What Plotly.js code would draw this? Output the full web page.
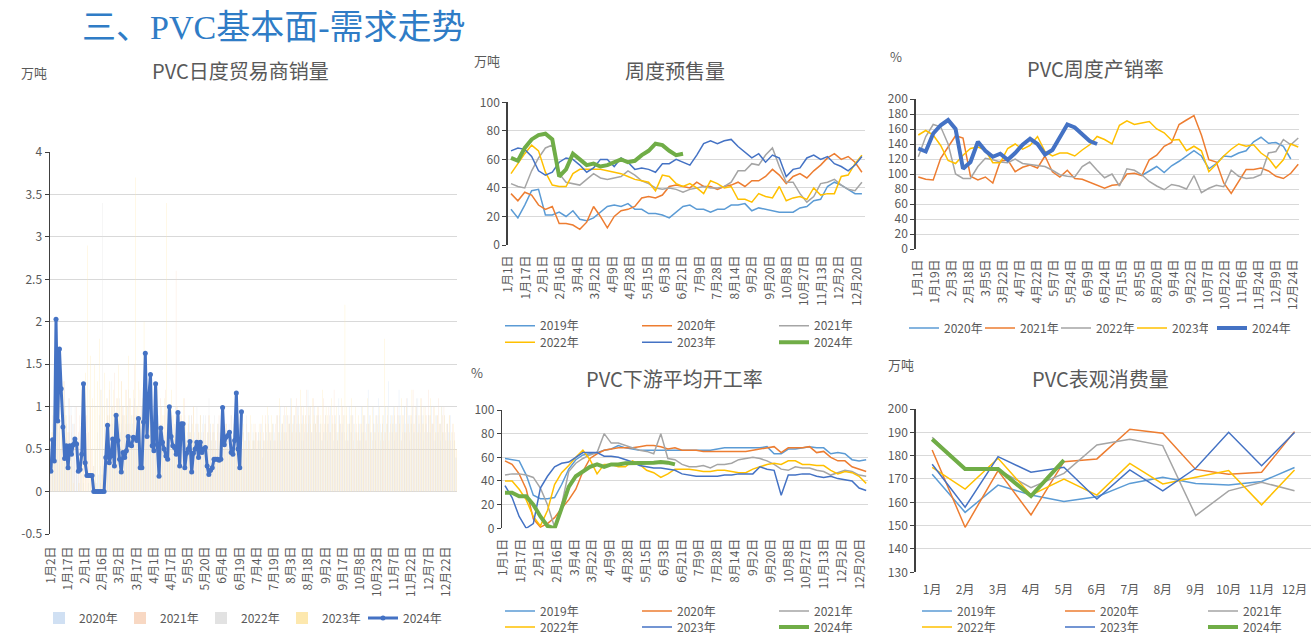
<!DOCTYPE html>
<html><head><meta charset="utf-8">
<script src="https://cdn.plot.ly/plotly-3.0.1.min.js"></script>
<style>
body{margin:0;background:#fff;}
#wrap{position:relative;width:1312px;height:635px;overflow:hidden;}
#chart{position:absolute;left:0;top:0;width:1312px;height:635px;}
#heading{position:absolute;left:82px;top:8px;font-size:34px;line-height:40px;color:#2F7CC6;font-family:"Liberation Serif","Noto Sans CJK SC",serif;white-space:nowrap;z-index:5;}
</style></head><body>
<div id="wrap"><div id="chart"></div><div id="heading">三、PVC基本面-需求走势</div></div>
<script>
// ---------------- DATA ----------------
// Panel 1: PVC日度贸易商销量 (万吨), trading-day categories
const leftLabels = ['1月2日','1月17日','2月1日','2月16日','3月2日','3月17日','4月1日','4月17日','5月5日','5月20日','6月4日','6月19日','7月4日','7月19日','8月3日','8月18日','9月2日','9月17日','10月8日','10月23日','11月7日','11月22日','12月7日','12月22日'];
const leftYTicks = ['-0.5','0','0.5','1','1.5','2','2.5','3','3.5','4'];
const trade2020 = [
0.5,0.8,0.6,0.9,1.1,0.7,0.5,0.8,1.2,0.9,0.6,0.7,1.0,0.8,0.4,0.3,0.2,0.1,0.0,0.0,
0.0,0.0,0.0,0.0,0.1,0.1,0.2,0.1,0.2,0.3,0.2,0.3,0.4,0.3,0.5,0.4,0.6,0.5,0.7,0.6,
0.8,0.7,0.9,0.6,0.8,1.0,0.7,0.9,0.8,1.1,0.9,0.7,0.8,1.0,0.9,0.6,0.8,0.7,0.9,1.2,
0.8,0.7,1.0,0.9,0.6,0.8,0.7,0.5,0.8,0.9,0.7,0.6,0.8,1.0,0.7,0.9,0.6,0.8,0.7,0.5,
0.7,0.9,0.8,0.6,0.7,0.5,0.8,0.6,0.7,0.9,0.6,0.5,0.7,0.8,0.6,0.7,0.5,0.6,0.8,0.7,
0.6,0.5,0.7,0.6,0.8,0.5,0.6,0.7,0.5,0.6,0.8,0.7,0.5,0.6,0.4,0.7,0.6,0.5,0.7,0.6,
0.5,0.7,0.6,0.8,0.6,0.5,0.7,0.9,0.6,0.7,0.8,0.6,0.9,0.7,1.0,0.8,0.7,0.9,0.6,0.8,
1.1,0.8,0.9,0.7,1.0,0.8,0.6,0.9,0.7,0.8,1.2,0.9,0.7,0.8,1.0,0.7,0.9,0.8,0.6,0.7,
0.9,0.7,0.8,1.0,0.8,0.6,0.9,0.7,1.1,0.8,0.7,0.9,0.6,0.8,1.0,0.7,0.9,0.8,0.7,0.6,
0.8,1.0,0.7,0.9,0.8,1.2,0.9,0.7,1.0,0.8,0.9,1.1,0.8,0.7,0.9,1.0,0.8,1.3,0.9,0.8,
1.0,0.8,0.9,1.2,0.9,0.7,1.0,0.8,1.1,0.9,0.8,1.0,0.7,0.9,1.1,0.8,1.0,0.9,0.7,0.8,
0.9,0.7,1.0,0.8,0.6,0.9,0.7,0.8,1.0,0.7,0.6,0.8,0.7,0.9,0.6,0.5,0.4];
const trade2021 = [
0.4,0.7,0.9,0.6,1.0,0.8,0.5,0.9,1.3,0.8,0.7,1.1,0.9,0.6,0.8,1.0,0.7,0.9,1.2,0.8,
0.6,0.9,0.7,1.0,0.5,0.3,0.1,0.0,0.0,0.1,0.2,0.4,0.6,0.9,1.2,0.8,1.0,1.4,0.9,1.1,
0.8,1.3,1.0,0.9,1.2,0.8,1.1,0.7,1.0,1.5,0.9,0.8,1.2,1.0,0.7,0.9,1.1,0.8,1.0,0.7,
0.9,0.6,1.0,0.8,1.1,0.7,0.9,1.2,0.8,1.0,0.7,0.9,0.8,2.6,1.0,0.7,0.9,0.8,1.1,0.6,
0.8,0.7,0.9,1.0,0.6,0.8,0.7,0.9,0.5,0.7,0.8,0.6,0.9,0.7,0.5,0.8,0.6,0.7,0.9,0.6,
0.7,0.5,0.8,0.6,0.7,0.9,0.6,0.5,0.8,0.7,0.6,0.9,0.7,0.5,0.8,0.6,0.7,0.5,0.6,0.8,
0.7,0.6,0.8,0.5,0.7,0.9,0.6,0.8,0.7,0.5,0.6,0.8,0.9,0.7,0.6,0.8,1.0,0.7,0.9,0.8,
1.0,0.7,0.9,1.1,0.8,0.7,1.0,0.9,0.8,1.2,0.9,1.0,0.7,1.1,0.8,0.9,1.0,0.7,0.8,1.1,
0.9,0.8,1.0,0.7,0.9,1.2,0.8,0.6,0.9,0.8,1.0,0.7,0.9,0.6,0.8,0.7,0.9,0.5,0.8,0.7,
0.6,0.8,0.7,0.9,0.6,0.8,0.7,0.5,0.8,0.6,0.9,0.7,0.5,0.8,0.6,0.7,0.9,0.6,0.8,0.7,
0.9,0.7,1.0,0.8,0.6,0.9,0.7,1.1,0.8,0.7,0.9,1.2,0.8,1.0,0.7,0.9,1.1,0.8,1.0,0.9,
1.2,0.9,0.8,1.0,0.7,0.9,1.1,0.8,0.9,1.0,0.7,0.8,0.9,0.6,0.8,0.7,0.5];
const trade2022 = [
0.6,0.9,0.7,1.0,0.8,1.2,0.9,0.7,1.0,0.8,1.1,0.9,0.7,0.8,1.0,0.6,0.5,0.3,0.2,0.1,
0.0,0.0,0.1,0.0,0.2,0.3,0.5,0.7,0.9,1.2,3.4,1.0,0.8,1.1,0.9,1.3,0.8,1.0,0.7,0.9,
1.1,0.8,1.0,0.7,0.9,1.2,0.8,0.6,0.9,0.7,1.0,0.8,0.6,0.9,0.7,0.5,0.8,0.6,0.7,0.5,
0.6,0.4,0.7,0.5,0.6,0.8,0.5,0.7,0.4,0.6,0.5,0.7,0.6,0.4,0.8,0.6,0.5,0.7,0.9,0.6,
0.8,0.7,0.9,0.6,0.8,1.0,0.7,0.9,0.8,0.6,0.9,0.7,1.1,0.8,0.7,0.9,0.6,0.8,0.7,0.9,
0.7,0.6,0.8,0.5,0.7,0.9,0.6,0.8,0.7,0.5,0.6,0.8,0.7,0.6,0.9,0.7,0.5,0.8,0.6,0.7,
0.5,0.7,0.6,0.4,0.6,0.8,0.5,0.7,0.6,0.8,0.7,0.5,0.6,0.9,0.7,0.8,0.6,0.7,0.9,0.8,
0.7,0.9,0.6,0.8,1.0,0.7,0.8,0.6,0.9,0.7,0.8,1.0,0.7,0.6,0.8,0.9,0.7,0.8,0.6,0.7,
0.8,0.6,0.9,0.7,0.5,0.8,0.7,0.6,0.9,0.7,0.8,0.5,0.7,0.6,0.8,0.9,0.6,0.7,0.5,0.8,
0.6,0.7,0.9,0.6,0.8,0.5,0.7,0.6,0.8,0.7,0.5,0.9,0.6,0.8,0.7,0.6,0.8,0.5,0.7,0.9,
0.6,0.8,0.7,0.9,0.6,0.8,1.0,0.7,0.9,0.6,0.8,0.7,0.9,1.1,0.8,0.7,0.9,0.6,0.8,0.7,
0.9,0.7,0.8,0.6,0.9,0.7,0.8,0.6,0.7,0.9,0.6,0.8,0.7,0.5,0.7,0.6,0.4];
const trade2023 = [
0.7,1.0,0.8,1.2,0.9,1.1,0.8,1.3,1.0,0.9,0.7,0.5,0.3,0.1,0.0,0.0,0.1,0.3,0.6,0.9,
1.4,2.9,1.2,1.6,1.1,1.5,1.0,1.3,1.8,1.2,1.0,1.4,1.1,0.9,1.3,1.0,1.2,0.9,1.1,1.5,
1.0,1.3,0.9,1.2,1.0,1.6,1.1,0.9,1.2,3.7,1.0,1.3,0.9,1.1,2.0,1.2,0.9,1.0,1.3,0.8,
1.1,0.9,1.2,0.8,1.0,0.9,1.1,3.4,1.0,0.8,1.2,0.9,0.7,1.0,0.8,0.9,0.7,1.1,0.8,0.6,
0.9,0.7,0.8,1.0,0.6,0.8,0.7,0.9,0.6,0.8,0.5,0.7,0.9,0.6,0.8,0.7,0.5,0.8,0.6,0.7,
0.9,0.6,0.8,0.5,0.7,0.6,0.8,0.7,0.5,0.9,0.6,0.7,0.8,0.6,0.5,0.7,0.9,0.6,0.8,0.7,
0.6,0.8,0.7,0.9,0.6,0.8,1.0,0.7,0.9,0.8,0.6,0.9,0.7,1.1,0.8,0.9,0.7,1.0,0.8,0.9,
1.1,0.8,1.0,0.7,0.9,1.2,0.8,1.0,0.9,0.7,1.0,0.8,1.1,0.9,0.8,1.0,0.7,0.9,1.2,0.8,
1.0,0.9,0.7,1.1,0.8,0.9,1.0,0.7,0.8,1.1,0.9,2.2,1.0,0.8,0.9,1.1,0.8,1.0,0.7,0.9,
0.8,1.0,0.9,0.7,1.1,0.8,0.9,1.0,0.7,0.9,0.8,1.0,0.7,0.9,1.8,0.8,1.0,0.7,0.9,0.8,
1.0,0.7,0.9,0.8,1.1,0.9,0.7,1.0,0.8,0.9,1.2,0.8,1.0,0.7,0.9,1.1,0.8,1.0,0.9,0.7,
0.9,1.1,0.8,1.0,0.7,0.9,0.8,1.0,0.7,0.9,0.8,0.6,0.9,0.7,0.8,0.6,0.5];
const trade2024 = [0.24,0.61,0.36,2.03,0.83,1.68,1.21,0.76,0.39,0.54,
0.28,0.54,0.44,0.55,0.62,0.56,0.24,0.26,0.44,1.27,
0.34,0.19,0.19,0.19,0.19,0,0,0,0,0,
0,0,0.4,0.78,0.34,0.42,0.62,0.3,0.9,0.6,
0.38,0.23,0.46,0.4,0.48,0.65,0.55,0.54,0.64,0.63,
0.6,0.86,0.28,0.28,0.82,1.63,0.65,1.1,1.38,0.54,
0.48,1.27,0.55,0.18,0.75,0.58,0.5,0.42,0.38,1.0,
0.65,0.54,0.52,0.44,0.93,0.3,0.8,0.8,0.28,0.45,
0.5,0.59,0.23,0.45,0.5,0.58,0.4,0.58,0.46,0.5,
0.52,0.3,0.2,0.25,0.28,0.38,0.38,0.38,0.37,0.38,
0.99,0.55,0.64,0.66,0.7,0.46,0.44,0.6,1.16,0.5,
0.28,0.94];

// Panel 2: 周度预售量 (万吨), weekly
const weekLabels = ['1月1日','1月17日','2月1日','2月16日','3月4日','3月22日','4月9日','4月28日','5月15日','6月3日','6月21日','7月9日','7月28日','8月14日','9月2日','9月20日','10月8日','10月27日','11月13日','12月2日','12月20日'];
const presale2019 = [25,19,28,38,39,21,21,23,20,24,18,17,19,23,27,28,27,29,25,25,22,22,21,19,23,27,28,25,25,23,25,25,28,28,29,24,26,25,24,23,23,23,26,27,31,32,41,44,42,39,36,36];
const presale2020 = [36,31,37,35,28,25,27,15,15,14,11,16,27,20,12,20,24,25,27,33,34,33,35,41,42,41,40,44,41,41,39,41,42,44,41,45,45,48,53,49,43,48,50,47,52,56,61,64,60,62,58,51];
const presale2021 = [43,41,40,52,61,68,70,50,44,43,42,46,50,47,46,47,48,52,49,45,43,40,39,40,39,37,39,40,41,40,40,41,44,52,52,57,56,63,68,55,44,44,36,30,34,43,44,46,42,39,38,44];
const presale2022 = [50,57,64,70,66,51,42,41,41,50,53,53,53,53,52,51,50,48,46,45,44,38,49,48,43,41,43,40,36,45,43,40,41,32,32,30,36,34,33,41,31,33,34,32,40,35,36,36,48,49,57,63];
const presale2023 = [66,68,67,62,52,49,51,58,61,60,56,51,54,60,60,55,61,58,53,54,53,51,57,57,60,58,56,63,71,73,71,73,74,69,65,61,64,58,63,61,48,53,54,61,63,60,62,57,55,52,56,62];
const presale2024 = [61,59,68,74,77,78,74,48,53,64,60,56,57,55,56,58,60,58,59,63,66,71,70,66,63,64];

// Panel 3: PVC周度产销率 (%), weekly
const rateLabels = ['1月1日','1月19日','2月3日','2月18日','3月5日','3月22日','4月7日','4月22日','5月7日','5月24日','6月9日','6月24日','7月15日','8月5日','8月20日','9月4日','9月22日','10月7日','10月22日','11月6日','11月24日','12月9日','12月24日'];
const rate2020 = [null,null,null,null,null,null,null,null,null,null,null,null,null,null,null,null,null,null,null,null,null,null,null,null,null,null,null,null,null,null,98,104,110,102,111,117,124,131,124,107,114,124,123,128,131,143,149,141,142,137,120];
const rate2021 = [96,93,92,121,136,151,148,97,92,96,88,117,119,103,109,112,108,124,103,96,105,94,93,89,86,81,85,86,100,101,98,119,125,137,142,166,172,178,152,119,116,88,74,90,106,106,108,104,97,94,101,113];
const rate2022 = [123,150,166,163,140,100,94,94,110,121,119,116,115,120,114,113,112,110,105,99,97,96,110,116,105,95,100,84,107,105,99,90,84,79,86,84,80,98,75,81,85,83,105,97,94,95,99,128,130,146,139,148];
const rate2023 = [152,158,152,138,118,114,125,134,136,132,115,115,134,140,133,138,150,130,124,128,128,124,132,139,150,146,140,165,171,166,168,170,160,155,145,146,131,137,131,103,113,124,133,140,137,139,128,121,108,119,140,136];
const rate2024 = [134,130,154,165,172,160,107,116,143,131,123,127,119,128,139,147,140,126,132,148,166,162,153,144,140];

// Panel 4: PVC下游平均开工率 (%), weekly
const oper2019 = [59,58,57,45,28,25,25,26,37,50,58,62,63,64,66,67,70,68,67,66,66,66,66,66,66,66,66,66,66,66,67,68,68,68,68,68,68,69,63,63,67,67,68,69,68,68,63,64,63,58,57,58];
const oper2020 = [57,54,46,33,8,1,4,9,17,24,33,48,59,63,66,67,68,68,68,69,70,70,69,67,68,66,66,66,65,65,65,65,65,65,65,66,67,68,69,64,68,68,68,69,64,65,60,57,57,52,50,48];
const oper2021 = [45,46,46,45,43,34,20,1,20,48,55,59,62,64,80,72,72,70,68,66,65,63,80,59,58,54,52,52,53,51,54,54,55,58,59,60,59,57,54,50,49,52,51,51,49,48,45,47,49,48,45,44];
const oper2022 = [40,40,33,24,10,2,15,37,47,53,60,66,58,46,54,54,52,52,57,54,49,47,43,46,50,50,50,49,48,48,49,49,48,47,47,50,52,54,55,54,57,57,54,54,53,53,49,46,48,47,44,38];
const oper2023 = [36,26,10,0,4,34,44,52,55,56,60,64,64,64,61,61,60,58,56,53,52,51,51,50,49,46,45,44,44,44,44,45,45,46,46,46,52,50,49,28,45,45,46,46,44,43,44,42,41,40,34,32];
const oper2024 = [30,30,27,27,20,10,2,0,17,35,44,48,52,54,52,54,54,55,55,55.5,55,55.5,56,55.5,54];

// Panel 5: PVC表观消费量 (万吨), monthly
const months = ['1月','2月','3月','4月','5月','6月','7月','8月','9月','10月','11月','12月'];
const cons2019 = [172,155.7,167.4,163.1,160.3,162.4,168.1,170.7,168.1,167.4,168.9,174.9];
const cons2020 = [182.4,149.3,173.6,154.6,177.4,178.6,191.3,189.6,174.1,172,172.9,190.3];
const cons2021 = [187.9,174.5,174,166.3,172.4,184.6,187,184.3,154.3,164.9,168.6,165];
const cons2022 = [175,165.7,178.9,163.1,170,163.1,176.7,167.9,170.7,173.6,158.9,173.9];
const cons2023 = [176.3,157.9,179.6,172.9,175,161.4,173.9,164.9,174.6,190,175.7,189.9];
const cons2024 = [187,174.3,174.3,162.7,178.1];

// ---------------- STYLE / LAYOUT ----------------
const FONT = '"Noto Sans CJK SC", "Noto Sans", sans-serif';
const TXT = '#595959', GRID = '#d9d9d9', AXIS = '#404040';
const W = 1312, H = 635;
const fx = px => px / W;
const fy = py => 1 - py / H;
const idx = arr => arr.map((_, i) => i);
const C = {blue:'#5B9BD5', orange:'#ED7D31', gray:'#A5A5A5', yellow:'#FFC000', dblue:'#4472C4', green:'#70AD47'};

function yAxis(top, bottom, range, dtick, anchor, extra) {
  return Object.assign({
    domain: [fy(bottom), fy(top)], range: range, dtick: dtick, tick0: range[0], anchor: anchor,
    showgrid: true, gridcolor: GRID, gridwidth: 1, zeroline: false,
    showline: true, linecolor: AXIS, linewidth: 1.5,
    ticks: 'outside', ticklen: 4, tickcolor: AXIS, tickwidth: 1,
    tickfont: {size: 12, color: TXT, family: FONT}, fixedrange: true
  }, extra || {});
}
function xAxis(left, right, range, anchor, extra) {
  return Object.assign({
    domain: [fx(left), fx(right)], range: range, anchor: anchor,
    showgrid: false, zeroline: false, showline: false, ticks: '',
    tickfont: {size: 12, color: TXT, family: FONT}, tickangle: -90, fixedrange: true,
    ticklabelstandoff: 7
  }, extra || {});
}
function spread(labels, first, last) {
  const n = labels.length - 1;
  return labels.map((_, k) => first + (last - first) * k / n);
}
function line(name, y, color, width, xa, ya, legend, x) {
  return {type: 'scatter', mode: 'lines', name: name, x: x || idx(y), y: y, xaxis: xa, yaxis: ya,
    legend: legend, line: {color: color, width: width}, hoverinfo: 'skip', connectgaps: false};
}
function bars(name, y, color) {
  return {type: 'bar', name: name, x: idx(y), y: y, xaxis: 'x', yaxis: 'y', legend: 'legend',
    marker: {color: color, line: {width: 0}}, hoverinfo: 'skip'};
}
function leg(xpx, ypx, ew) {
  return {orientation: 'h', x: fx(xpx), y: fy(ypx), xanchor: 'left', yanchor: 'middle',
    entrywidth: ew, entrywidthmode: 'pixels', bgcolor: 'rgba(0,0,0,0)', borderwidth: 0,
    font: {size: 12, color: TXT, family: FONT}, traceorder: 'normal', itemclick: false, itemdoubleclick: false};
}
function ann(text, cx, cy, size) {
  return {text: text, x: fx(cx), y: fy(cy), xref: 'paper', yref: 'paper', xanchor: 'center', yanchor: 'middle',
    showarrow: false, font: {size: size, color: TXT, family: FONT}};
}

const traces = [
  bars('2020年', trade2020, '#D0E0F3'),
  bars('2021年', trade2021, '#F8D8C3'),
  bars('2022年', trade2022, '#E2E2E2'),
  bars('2023年', trade2023, '#FDE8AE'),
  Object.assign(line('2024年', trade2024, C.dblue, 3, 'x', 'y', 'legend'), {mode: 'lines+markers', marker: {size: 5, color: C.dblue}}),

  line('2019年', presale2019, C.blue, 1.5, 'x2', 'y2', 'legend2'),
  line('2020年', presale2020, C.orange, 1.5, 'x2', 'y2', 'legend2'),
  line('2021年', presale2021, C.gray, 1.5, 'x2', 'y2', 'legend2'),
  line('2022年', presale2022, C.yellow, 1.5, 'x2', 'y2', 'legend3'),
  line('2023年', presale2023, C.dblue, 1.5, 'x2', 'y2', 'legend3'),
  line('2024年', presale2024, C.green, 4, 'x2', 'y2', 'legend3'),

  line('2020年', rate2020, C.blue, 1.5, 'x3', 'y3', 'legend4'),
  line('2021年', rate2021, C.orange, 1.5, 'x3', 'y3', 'legend4'),
  line('2022年', rate2022, C.gray, 1.5, 'x3', 'y3', 'legend4'),
  line('2023年', rate2023, C.yellow, 1.5, 'x3', 'y3', 'legend4'),
  line('2024年', rate2024, C.dblue, 4, 'x3', 'y3', 'legend9'),

  line('2019年', oper2019, C.blue, 1.5, 'x4', 'y4', 'legend5'),
  line('2020年', oper2020, C.orange, 1.5, 'x4', 'y4', 'legend5'),
  line('2021年', oper2021, C.gray, 1.5, 'x4', 'y4', 'legend5'),
  line('2022年', oper2022, C.yellow, 1.5, 'x4', 'y4', 'legend6'),
  line('2023年', oper2023, C.dblue, 1.5, 'x4', 'y4', 'legend6'),
  line('2024年', oper2024, C.green, 4, 'x4', 'y4', 'legend6'),

  line('2019年', cons2019, C.blue, 1.5, 'x5', 'y5', 'legend7', months),
  line('2020年', cons2020, C.orange, 1.5, 'x5', 'y5', 'legend7', months),
  line('2021年', cons2021, C.gray, 1.5, 'x5', 'y5', 'legend7', months),
  line('2022年', cons2022, C.yellow, 1.5, 'x5', 'y5', 'legend8', months),
  line('2023年', cons2023, C.dblue, 1.5, 'x5', 'y5', 'legend8', months),
  line('2024年', cons2024, C.green, 4, 'x5', 'y5', 'legend8', months.slice(0, cons2024.length))
];

const layout = {
  width: W, height: H, margin: {l: 0, r: 0, t: 0, b: 0, autoexpand: false},
  paper_bgcolor: '#fff', plot_bgcolor: 'rgba(0,0,0,0)',
  font: {family: FONT, color: TXT, size: 12},
  barmode: 'group', bargap: 0.3, bargroupgap: 0, hovermode: false,
  // panel 1
  xaxis: xAxis(50, 457, [-0.5, 236.5], 'y', {tickmode: 'array', tickvals: leftLabels.map((_, k) => k * 10), ticktext: leftLabels, ticklabelstandoff: 9}),
  yaxis: yAxis(152, 534, [-0.5, 4], 0.5, 'x', {tickmode: 'array', tickvals: leftYTicks.map(Number), ticktext: leftYTicks}),
  // panel 2
  xaxis2: xAxis(507.7, 865, [-0.48, 51.45], 'y2', {tickmode: 'array', tickvals: spread(weekLabels, -0.39, 50.25), ticktext: weekLabels}),
  yaxis2: yAxis(102.3, 245, [0, 100], 20, 'x2'),
  // panel 3
  xaxis3: xAxis(915.7, 1299, [-0.35, 51.1], 'y3', {tickmode: 'array', tickvals: spread(rateLabels, -0.08, 50.34), ticktext: rateLabels}),
  yaxis3: yAxis(99, 249, [0, 200], 20, 'x3'),
  // panel 4
  xaxis4: xAxis(502.3, 868.3, [-0.38, 51.3], 'y4', {tickmode: 'array', tickvals: spread(weekLabels, -0.24, 50.14), ticktext: weekLabels}),
  yaxis4: yAxis(410, 528.3, [0, 100], 20, 'x4'),
  // panel 5
  xaxis5: xAxis(915.7, 1311, [-0.5, 11.5], 'y5', {type: 'category', tickangle: 0, categoryorder: 'array', categoryarray: months, ticklabelstandoff: 9}),
  yaxis5: yAxis(409, 572.3, [130, 200], 10, 'x5'),
  legend: leg(39, 618, 36),
  legend2: leg(500, 325.7, 92),
  legend3: leg(500, 342.3, 92),
  legend4: leg(904, 328, 31),
  legend9: leg(1212, 328, 50),
  legend5: leg(500, 611, 92),
  legend6: leg(500, 627, 92),
  legend7: leg(917, 611, 98),
  legend8: leg(917, 627, 98),
  annotations: [
    ann('PVC日度贸易商销量', 240.8, 70.5, 20),
    ann('万吨', 34, 72, 13),
    ann('周度预售量', 674.5, 70, 20),
    ann('万吨', 486.7, 60, 13),
    ann('PVC周度产销率', 1095.5, 68.3, 20),
    ann('%', 896, 56, 13),
    ann('PVC下游平均开工率', 674, 378.3, 20),
    ann('%', 477, 372, 13),
    ann('PVC表观消费量', 1100, 378.3, 20),
    ann('万吨', 901, 364, 13)
  ]
};

Plotly.newPlot('chart', traces, layout, {staticPlot: true, displayModeBar: false});
</script></body></html>
